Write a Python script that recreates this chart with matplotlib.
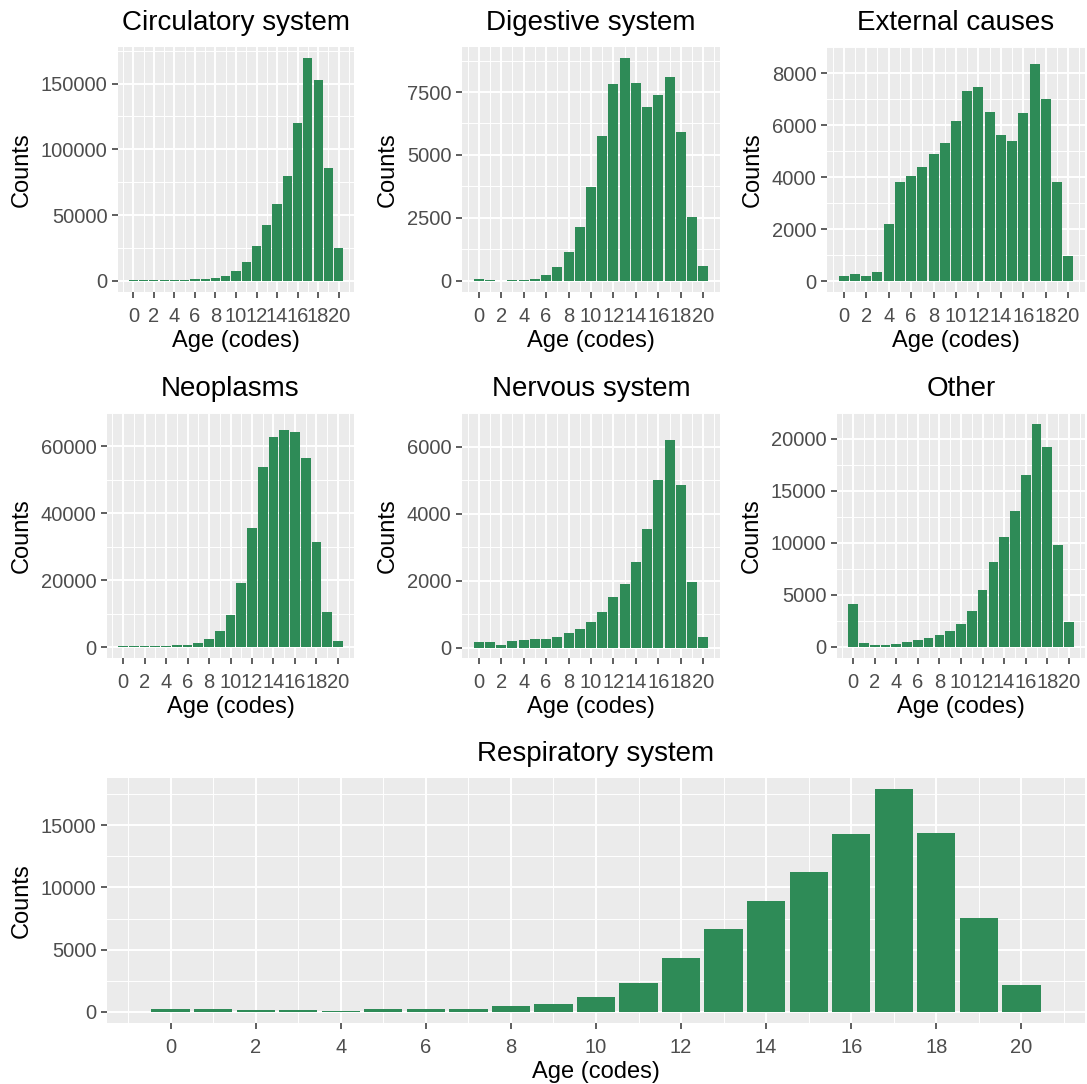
import matplotlib.pyplot as plt
import numpy as np

plt.rcParams['font.family'] = ['Liberation Sans', 'DejaVu Sans']

ages = list(range(21))

circulatory = [300, 300, 400, 500, 500, 1000, 1200, 1500, 2500, 3500, 7400, 14000,
               26500, 42500, 58500, 80000, 119700, 169300, 153000, 86000, 25000]
digestive = [80, 30, 10, 30, 30, 70, 225, 545, 1145, 2140, 3710, 5745,
             7805, 8845, 7860, 6890, 7370, 8085, 5930, 2540, 585]
external = [215, 290, 215, 365, 2190, 3800, 4025, 4400, 4890, 5310, 6140, 7310,
            7460, 6515, 5610, 5385, 6480, 8365, 7005, 3800, 970]
neoplasms = [200, 200, 200, 200, 200, 500, 780, 1360, 2530, 4860, 9530, 19160,
             35700, 53890, 62840, 64880, 64400, 56520, 31320, 10600, 1950]
nervous = [158, 158, 93, 185, 240, 260, 260, 315, 436, 566, 770, 1076,
           1521, 1901, 2541, 3552, 4990, 6187, 4861, 1957, 315]
other = [4100, 385, 190, 190, 290, 480, 670, 865, 1150, 1540, 2210, 3460,
         5480, 8170, 10580, 13080, 16510, 21410, 19200, 9810, 2400]
respiratory = [190, 190, 110, 110, 100, 190, 270, 270, 510, 670, 1155, 2285,
               4300, 6690, 8950, 11210, 14270, 17900, 14350, 7580, 2180]

titles = ["Circulatory system", "Digestive system", "External causes",
          "Neoplasms", "Nervous system", "Other", "Respiratory system"]
series = [circulatory, digestive, external, neoplasms, nervous, other, respiratory]
y_steps = [50000, 2500, 2000, 20000, 2000, 5000, 5000]

# panel boxes in pixels: left, top, right, bottom
boxes = [(118, 47, 354, 292), (462, 47, 720, 292), (827, 47, 1085, 292),
         (107, 413, 354, 658), (462, 413, 720, 658), (837, 413, 1085, 658),
         (107, 778, 1085, 1023)]

W, H = 1087, 1084
fig = plt.figure(figsize=(W / 100, H / 100), dpi=100)

for title, vals, step, (l, t, r, b) in zip(titles, series, y_steps, boxes):
    ax = fig.add_axes([l / W, 1 - b / H, (r - l) / W, (b - t) / H])
    ax.set_facecolor('#EBEBEB')
    ax.bar(ages, vals, width=0.9, color='#2E8B57', zorder=3)
    ymax = max(vals)
    ax.set_xlim(-0.45 - 1.045, 20.45 + 1.045)
    ax.set_ylim(-0.05 * ymax, 1.05 * ymax)
    ax.set_xticks(range(0, 21, 2))
    ax.set_xticks(range(-1, 22, 2), minor=True)
    yt = np.arange(0, ymax * 1.05, step)
    ax.set_yticks(yt)
    ax.set_yticks(yt + step / 2, minor=True)
    ax.set_yticklabels([str(int(v)) for v in yt])
    ax.grid(which='major', color='white', linewidth=1.4, zorder=0)
    ax.grid(which='minor', color='white', linewidth=0.7, zorder=0)
    ax.set_axisbelow(True)
    for s in ax.spines.values():
        s.set_visible(False)
    ax.tick_params(which='major', length=4.5, width=1.1, color='#333333',
                   labelcolor='#4D4D4D', labelsize=14.5, pad=3)
    ax.tick_params(axis='x', which='major', pad=6)
    ax.tick_params(which='minor', length=0)
    ax.set_title(title, fontsize=20, pad=12)
    ax.set_xlabel('Age (codes)', fontsize=17, labelpad=3)
    ax.set_ylabel('Counts', fontsize=17, labelpad=6)

fig.savefig('out.png', dpi=100)
